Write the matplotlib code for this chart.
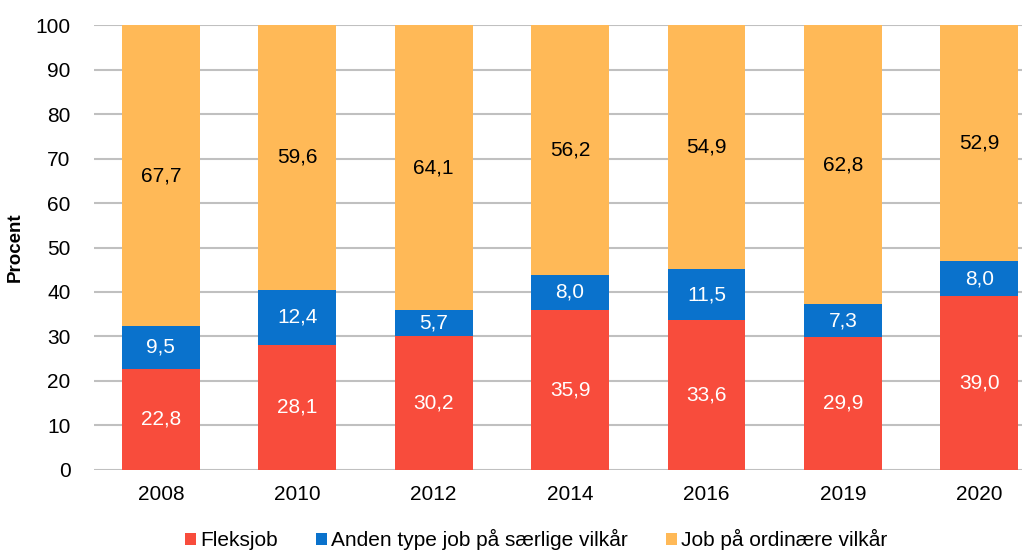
import numpy as np
import matplotlib.pyplot as plt

plt.rcParams['font.family'] = ['Liberation Sans', 'DejaVu Sans']

years = ['2008', '2010', '2012', '2014', '2016', '2019', '2020']
fleksjob = [22.8, 28.1, 30.2, 35.9, 33.6, 29.9, 39.0]
anden = [9.5, 12.4, 5.7, 8.0, 11.5, 7.3, 8.0]
ordinaer = [67.7, 59.6, 64.1, 56.2, 54.9, 62.8, 52.9]

labels = ['Fleksjob', 'Anden type job på særlige vilkår', 'Job på ordinære vilkår']
colors = ['#F84C3C', '#0A72CC', '#FFB957']
text_colors = ['white', 'white', 'black']

fig = plt.figure(figsize=(10.33, 5.5), dpi=100)
ax = fig.add_axes([0.091, 0.1455, 0.898, 0.809])

x = np.arange(len(years))
bottom = np.zeros(len(years))
for vals, lab, col, tc in zip([fleksjob, anden, ordinaer], labels, colors, text_colors):
    vals = np.array(vals)
    ax.bar(x, vals, 0.57, bottom=bottom, color=col, label=lab, zorder=3)
    for xi, b, v in zip(x, bottom, vals):
        ax.text(xi, b + v / 2, f'{v:.1f}'.replace('.', ','), ha='center', va='center',
                color=tc, fontsize=15, zorder=4)
    bottom += vals

ax.set_xlim(-0.49, 6.31)
ax.set_ylim(0, 100)
ax.set_yticks(range(0, 101, 10))
ax.set_xticks(x)
ax.set_xticklabels(years)
ax.tick_params(length=0, labelsize=15, pad=11)
ax.tick_params(axis='y', pad=17)
ax.grid(axis='y', color='#C0C0C0', linewidth=1.5, zorder=0)
for s in ax.spines.values():
    s.set_visible(False)
ax.set_ylabel('Procent', fontsize=13.5, fontweight='bold', labelpad=8)

fig.legend(loc='lower center', bbox_to_anchor=(0.519, -0.035), ncol=3, frameon=False,
           fontsize=15, handlelength=0.55, handleheight=0.55, handletextpad=0.2,
           columnspacing=1.8)

fig.savefig('out.png', dpi=100)
